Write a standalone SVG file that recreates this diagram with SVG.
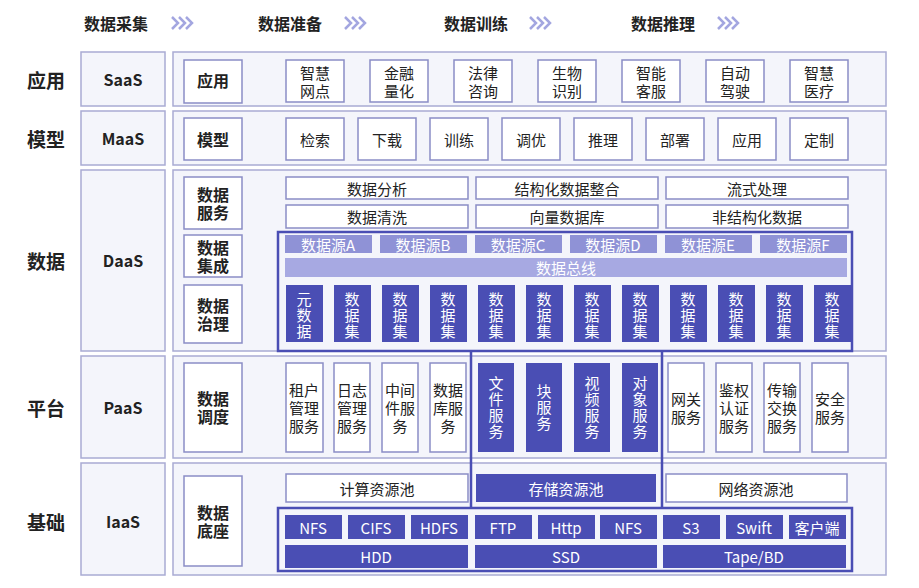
<svg xmlns="http://www.w3.org/2000/svg" width="919" height="588" viewBox="0 0 919 588">
<style>
text{font-family:"Noto Sans CJK SC","Noto Sans",sans-serif;text-anchor:middle;dominant-baseline:central}
.p{fill:#f4f5fb;stroke:#a9abd3;stroke-width:1.5}
.b{fill:#fff;stroke:#8a8dc6;stroke-width:1.5}
.d{fill:#4a4eb4}
.s{fill:#8f92d6}
.bus{fill:#a7a9e2}
.t{font-size:15px;fill:#222}
.tb{font-size:16px;font-weight:bold;fill:#222}
.tw{font-size:15px;fill:#fff}
.h{font-size:16px;font-weight:bold;fill:#222}
.r{font-size:19px;font-weight:bold;fill:#222}
.o{fill:none;stroke:#4a4eb4;stroke-width:2.5}
.ch{fill:none;stroke:#a3a6e0;stroke-width:2.5}
</style>
<g id="header">
<text class="h" x="116" y="23">数据采集</text><text class="h" x="290" y="23">数据准备</text><text class="h" x="476" y="23">数据训练</text><text class="h" x="663" y="23">数据推理</text>
<g id="chev"><path class="ch" d="M172 17l6 6-6 6M179 17l6 6-6 6M186 17l6 6-6 6"/><path class="ch" d="M345 17l6 6-6 6M352 17l6 6-6 6M359 17l6 6-6 6"/><path class="ch" d="M530 17l6 6-6 6M537 17l6 6-6 6M544 17l6 6-6 6"/><path class="ch" d="M718 17l6 6-6 6M725 17l6 6-6 6M732 17l6 6-6 6"/></g>
</g>
<g id="panels">
<rect class="p" x="81" y="52" width="84" height="54"/><rect class="p" x="173" y="52" width="713" height="54"/>
<rect class="p" x="81" y="111" width="84" height="54"/><rect class="p" x="173" y="111" width="713" height="54"/>
<rect class="p" x="81" y="170" width="84" height="181"/><rect class="p" x="173" y="170" width="713" height="181"/>
<rect class="p" x="81" y="356" width="84" height="102"/><rect class="p" x="173" y="356" width="713" height="102"/>
<rect class="p" x="81" y="463" width="84" height="112"/><rect class="p" x="173" y="463" width="713" height="112"/>
<text class="r" x="46" y="79">应用</text><text class="r" x="46" y="138">模型</text><text class="r" x="46" y="260">数据</text><text class="r" x="46" y="407">平台</text><text class="r" x="46" y="521">基础</text>
<text class="tb" x="123" y="79">SaaS</text><text class="tb" x="123" y="138">MaaS</text><text class="tb" x="123" y="260">DaaS</text><text class="tb" x="123" y="407">PaaS</text><text class="tb" x="123" y="521">IaaS</text>
</g>
<g id="leftboxes">
<rect class="b" x="184" y="60" width="58" height="43"/><text class="tb" x="213" y="80">应用</text>
<rect class="b" x="184" y="118" width="58" height="42"/><text class="tb" x="213" y="139">模型</text>
<rect class="b" x="184" y="177" width="58" height="52"/><text class="tb" x="213" y="194">数据</text><text class="tb" x="213" y="212">服务</text>
<rect class="b" x="184" y="235" width="58" height="42"/><text class="tb" x="213" y="247">数据</text><text class="tb" x="213" y="265">集成</text>
<rect class="b" x="184" y="285" width="58" height="58"/><text class="tb" x="213" y="305">数据</text><text class="tb" x="213" y="323">治理</text>
<rect class="b" x="184" y="363" width="58" height="89"/><text class="tb" x="213" y="398">数据</text><text class="tb" x="213" y="416">调度</text>
<rect class="b" x="184" y="476" width="58" height="90"/><text class="tb" x="213" y="512">数据</text><text class="tb" x="213" y="530">底座</text>
</g>
<g id="apps" class="t">
<rect class="b" x="286" y="60" width="58" height="42"/><text class="t" x="315" y="72">智慧</text><text class="t" x="315" y="90">网点</text>
<rect class="b" x="370" y="60" width="58" height="42"/><text class="t" x="399" y="72">金融</text><text class="t" x="399" y="90">量化</text>
<rect class="b" x="454" y="60" width="58" height="42"/><text class="t" x="483" y="72">法律</text><text class="t" x="483" y="90">咨询</text>
<rect class="b" x="538" y="60" width="58" height="42"/><text class="t" x="567" y="72">生物</text><text class="t" x="567" y="90">识别</text>
<rect class="b" x="622" y="60" width="58" height="42"/><text class="t" x="651" y="72">智能</text><text class="t" x="651" y="90">客服</text>
<rect class="b" x="706" y="60" width="58" height="42"/><text class="t" x="735" y="72">自动</text><text class="t" x="735" y="90">驾驶</text>
<rect class="b" x="790" y="60" width="58" height="42"/><text class="t" x="819" y="72">智慧</text><text class="t" x="819" y="90">医疗</text>
</g>
<g id="models">
<rect class="b" x="286" y="118" width="58" height="42"/><text class="t" x="315" y="139">检索</text>
<rect class="b" x="358" y="118" width="58" height="42"/><text class="t" x="387" y="139">下载</text>
<rect class="b" x="430" y="118" width="58" height="42"/><text class="t" x="459" y="139">训练</text>
<rect class="b" x="502" y="118" width="58" height="42"/><text class="t" x="531" y="139">调优</text>
<rect class="b" x="574" y="118" width="58" height="42"/><text class="t" x="603" y="139">推理</text>
<rect class="b" x="646" y="118" width="58" height="42"/><text class="t" x="675" y="139">部署</text>
<rect class="b" x="718" y="118" width="58" height="42"/><text class="t" x="747" y="139">应用</text>
<rect class="b" x="790" y="118" width="58" height="42"/><text class="t" x="819" y="139">定制</text>
</g>
<g id="dataservices">
<rect class="b" x="286" y="177" width="182" height="22"/><text class="t" x="377" y="188">数据分析</text>
<rect class="b" x="476" y="177" width="182" height="22"/><text class="t" x="567" y="188">结构化数据整合</text>
<rect class="b" x="666" y="177" width="182" height="22"/><text class="t" x="757" y="188">流式处理</text>
<rect class="b" x="286" y="205" width="182" height="23"/><text class="t" x="377" y="216">数据清洗</text>
<rect class="b" x="476" y="205" width="182" height="23"/><text class="t" x="567" y="216">向量数据库</text>
<rect class="b" x="666" y="205" width="182" height="23"/><text class="t" x="757" y="216">非结构化数据</text>
</g>
<g id="sources">
<rect class="s" x="285" y="235" width="87" height="18"/><text class="tw" x="328" y="244">数据源A</text>
<rect class="s" x="380" y="235" width="87" height="18"/><text class="tw" x="423" y="244">数据源B</text>
<rect class="s" x="475" y="235" width="87" height="18"/><text class="tw" x="518" y="244">数据源C</text>
<rect class="s" x="570" y="235" width="87" height="18"/><text class="tw" x="613" y="244">数据源D</text>
<rect class="s" x="665" y="235" width="87" height="18"/><text class="tw" x="708" y="244">数据源E</text>
<rect class="s" x="760" y="235" width="87" height="18"/><text class="tw" x="803" y="244">数据源F</text>
<rect class="bus" x="285" y="258" width="562" height="19"/><text class="tw" x="566" y="267">数据总线</text>
</g>
<g id="datasets">
<rect class="d" x="286" y="285" width="37" height="57"/><text class="tw" x="304" y="298">元</text><text class="tw" x="304" y="314">数</text><text class="tw" x="304" y="330">据</text>
<g id="ds"><rect class="d" x="334" y="285" width="37" height="57"/><text class="tw" x="352" y="298">数</text><text class="tw" x="352" y="314">据</text><text class="tw" x="352" y="330">集</text></g>
<use href="#ds" x="48"/><use href="#ds" x="96"/><use href="#ds" x="144"/><use href="#ds" x="192"/><use href="#ds" x="240"/><use href="#ds" x="288"/><use href="#ds" x="336"/><use href="#ds" x="384"/><use href="#ds" x="432"/><use href="#ds" x="480"/>
</g>
<g id="platform">
<rect class="b" x="286" y="363" width="37" height="89"/><text class="t" x="304" y="389">租户</text><text class="t" x="304" y="407">管理</text><text class="t" x="304" y="425">服务</text>
<rect class="b" x="334" y="363" width="36" height="89"/><text class="t" x="352" y="389">日志</text><text class="t" x="352" y="407">管理</text><text class="t" x="352" y="425">服务</text>
<rect class="b" x="382" y="363" width="36" height="89"/><text class="t" x="400" y="389">中间</text><text class="t" x="400" y="407">件服</text><text class="t" x="400" y="425">务</text>
<rect class="b" x="430" y="363" width="36" height="89"/><text class="t" x="448" y="389">数据</text><text class="t" x="448" y="407">库服</text><text class="t" x="448" y="425">务</text>
<rect class="d" x="478" y="363" width="36" height="89"/><text class="tw" x="496" y="382">文</text><text class="tw" x="496" y="398">件</text><text class="tw" x="496" y="414">服</text><text class="tw" x="496" y="430">务</text>
<rect class="d" x="526" y="363" width="36" height="89"/><text class="tw" x="544" y="390">块</text><text class="tw" x="544" y="406">服</text><text class="tw" x="544" y="422">务</text>
<rect class="d" x="574" y="363" width="36" height="89"/><text class="tw" x="592" y="382">视</text><text class="tw" x="592" y="398">频</text><text class="tw" x="592" y="414">服</text><text class="tw" x="592" y="430">务</text>
<rect class="d" x="622" y="363" width="36" height="89"/><text class="tw" x="640" y="382">对</text><text class="tw" x="640" y="398">象</text><text class="tw" x="640" y="414">服</text><text class="tw" x="640" y="430">务</text>
<rect class="b" x="668" y="363" width="36" height="89"/><text class="t" x="686" y="398">网关</text><text class="t" x="686" y="416">服务</text>
<rect class="b" x="716" y="363" width="36" height="89"/><text class="t" x="734" y="389">鉴权</text><text class="t" x="734" y="407">认证</text><text class="t" x="734" y="425">服务</text>
<rect class="b" x="764" y="363" width="36" height="89"/><text class="t" x="782" y="389">传输</text><text class="t" x="782" y="407">交换</text><text class="t" x="782" y="425">服务</text>
<rect class="b" x="812" y="363" width="36" height="89"/><text class="t" x="830" y="398">安全</text><text class="t" x="830" y="416">服务</text>
</g>
<g id="infra">
<rect class="b" x="286" y="474" width="182" height="28"/><text class="t" x="377" y="488">计算资源池</text>
<rect class="d" x="476" y="474" width="180" height="28"/><text class="tw" x="566" y="488">存储资源池</text>
<rect class="b" x="666" y="474" width="181" height="28"/><text class="t" x="756" y="488">网络资源池</text>
<rect class="d" x="285" y="515" width="57" height="24"/><text class="tw" x="313" y="527">NFS</text>
<rect class="d" x="348" y="515" width="57" height="24"/><text class="tw" x="376" y="527">CIFS</text>
<rect class="d" x="411" y="515" width="57" height="24"/><text class="tw" x="439" y="527">HDFS</text>
<rect class="d" x="475" y="515" width="57" height="24"/><text class="tw" x="503" y="527">FTP</text>
<rect class="d" x="538" y="515" width="57" height="24"/><text class="tw" x="566" y="527">Http</text>
<rect class="d" x="600" y="515" width="57" height="24"/><text class="tw" x="628" y="527">NFS</text>
<rect class="d" x="663" y="515" width="57" height="24"/><text class="tw" x="691" y="527">S3</text>
<rect class="d" x="726" y="515" width="57" height="24"/><text class="tw" x="754" y="527">Swift</text>
<rect class="d" x="789" y="515" width="57" height="24"/><text class="tw" x="817" y="527">客户端</text>
<rect class="d" x="285" y="545" width="183" height="23"/><text class="tw" x="376" y="556">HDD</text>
<rect class="d" x="475" y="545" width="182" height="23"/><text class="tw" x="566" y="556">SSD</text>
<rect class="d" x="663" y="545" width="183" height="23"/><text class="tw" x="754" y="556">Tape/BD</text>
</g>
<g id="connectors">
<rect class="o" x="278" y="232" width="574" height="119"/>
<path class="o" d="M471 351V508M662 351V508"/>
<rect class="o" x="278" y="508" width="574" height="63"/>
</g>
</svg>
